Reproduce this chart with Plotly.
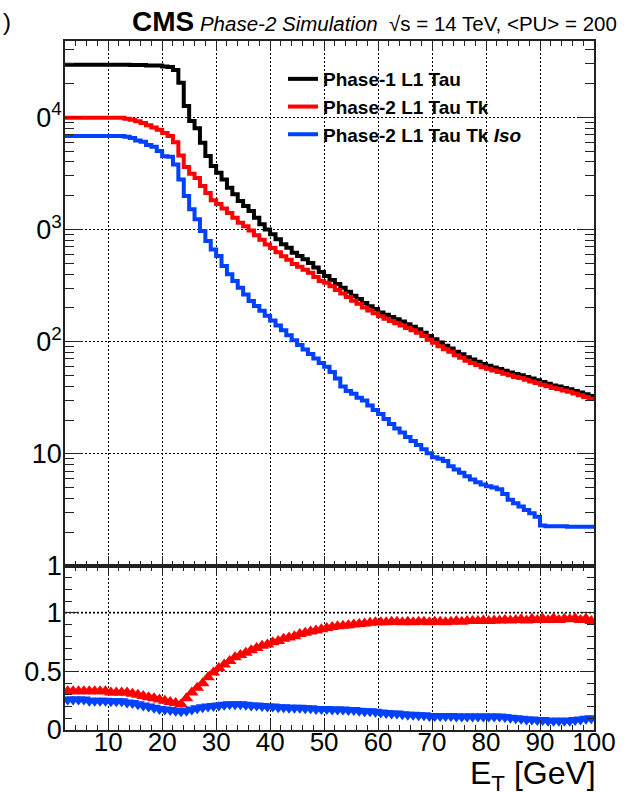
import plotly.graph_objects as go

# ---------------- data ----------------
# 1-GeV threshold bins, lower edges 2 ... 99 GeV
ET_LOW = list(range(2, 100))

PHASE1_L1TAU = [
    29400, 29400, 29400, 29400, 29400, 29400, 29400, 29400, 29400, 29400, 29400, 29400,  # 2-13
    29300, 29300, 29300,                                                                  # 14-16
    29000, 29000, 28900, 28400, 28000, 26400, 20300, 12600, 9250, 8000,                   # 17-26
    5930, 4510, 3670, 3200, 2790, 2350, 2055, 1790, 1617, 1460,                           # 27-36
    1270, 1110, 1000, 904, 816, 737, 688, 621, 580, 542,                                  # 37-46
    501, 457, 417, 385, 355, 327, 302, 279, 257, 240,                                     # 47-56
    221, 207, 195, 182, 174, 166, 158, 151, 143, 136,                                     # 57-66
    129, 120, 112, 105, 98, 92, 87, 81, 77, 72.4,                                         # 67-76
    69.2, 66.1, 63.1, 61, 58.9, 56.9, 55, 53.1, 51.3, 50.1,                               # 77-86
    48.4, 46.8, 45.2, 43.6, 42.2, 40.7, 39.8, 38.5, 37.6, 36.3,                           # 87-96
    35.1, 33.9, 32.7,                                                                     # 97-99
]

PHASE2_L1TAU_TK = [
    9900, 9900, 9900, 9900, 9900, 9900, 9900, 9900, 9900, 9900, 9900,                     # 2-12
    9700, 9500, 9200, 8900, 8500, 8100, 7750, 7250, 6800,                                 # 13-21
    6000, 4570, 3600, 3130, 2880, 2440, 2110, 1825, 1690, 1535,                           # 22-31
    1400, 1270, 1150, 1070, 980, 887, 808, 733, 682, 625,                                 # 32-41
    578, 538, 493, 466, 438, 410, 376, 347, 335, 312,                                     # 42-51
    289, 269, 250, 231, 217, 201, 189, 179, 168, 160,                                     # 52-61
    153, 146, 139, 132, 126, 120, 112, 104, 97.5, 91,                                     # 62-71
    85.5, 81, 75.5, 71.8, 67.5, 64.6, 61.8, 59, 57.2, 55.3,                               # 72-81
    53.5, 51.7, 50, 48.3, 47.3, 45.7, 44.2, 42.8, 41.3, 40,                               # 82-91
    38.6, 37.8, 36.6, 35.7, 34.4, 33.2, 32.1, 31.0,                                       # 92-99
]

PHASE2_L1TAU_TK_ISO = [
    6800, 6800, 6800, 6800, 6800, 6800, 6800, 6800, 6800, 6800, 6800,                     # 2-12
    6700, 6550, 6200, 6050, 5650, 5450, 5000, 4500, 4450,                                 # 13-21
    3800, 2790, 1990, 1510, 1230, 970, 790, 664, 580, 472,                                # 22-31
    398, 347, 302, 263, 230, 208, 188, 170, 154, 139,                                     # 32-41
    126, 114, 103, 93.3, 85.1, 77.6, 70.8, 64.6, 59.6, 53.7,                              # 42-51
    46.8, 39.8, 36.3, 34.3, 31.6, 29.9, 26.9, 24.5, 22.6, 20.4,                           # 52-61
    18.4, 16.8, 15.5, 14.1, 13.0, 12.0, 11.0, 10.1, 9.33, 9.02,                           # 62-71
    8.61, 7.76, 7.24, 6.76, 6.31, 5.89, 5.56, 5.31, 5.13, 5.01,                           # 72-81
    4.84, 4.37, 3.89, 3.63, 3.39, 3.16, 2.95, 2.75, 2.29, 2.26,                           # 82-91
    2.26, 2.26, 2.26, 2.24, 2.24, 2.24, 2.24, 2.24,                                       # 92-99
]

# ratio panel (w.r.t. Phase-1 L1 Tau)
RATIO_TK = [
    0.33, 0.33, 0.33, 0.33, 0.33, 0.33, 0.33, 0.33, 0.32, 0.32,                           # 2-11
    0.32, 0.32, 0.31, 0.30, 0.29, 0.28, 0.27, 0.26, 0.25, 0.24,                           # 12-21
    0.23, 0.22, 0.27, 0.32, 0.36, 0.40, 0.45, 0.49, 0.53, 0.56,                           # 22-31
    0.59, 0.62, 0.64, 0.66, 0.68, 0.70, 0.72, 0.73, 0.75, 0.76,                           # 32-41
    0.78, 0.79, 0.80, 0.82, 0.83, 0.84, 0.85, 0.86, 0.87, 0.88,                           # 42-51
    0.885, 0.89, 0.895, 0.90, 0.905, 0.91, 0.915, 0.92, 0.92, 0.92,                       # 52-61
    0.925, 0.925, 0.92, 0.925, 0.92, 0.925, 0.925, 0.92, 0.925, 0.925,                    # 62-71
    0.92, 0.925, 0.93, 0.925, 0.93, 0.93, 0.93, 0.935, 0.93, 0.935,                       # 72-81
    0.935, 0.94, 0.935, 0.94, 0.945, 0.935, 0.95, 0.94, 0.95, 0.94,                       # 82-91
    0.955, 0.94, 0.95, 0.945, 0.955, 0.94, 0.95, 0.93,                                    # 92-99
]

RATIO_TK_ISO = [
    0.26, 0.26, 0.26, 0.26, 0.25, 0.25, 0.25, 0.25, 0.245, 0.245,                         # 2-11
    0.245, 0.235, 0.23, 0.22, 0.21, 0.20, 0.19, 0.18, 0.175, 0.17,                        # 12-21
    0.165, 0.16, 0.165, 0.175, 0.185, 0.195, 0.20, 0.205, 0.21, 0.215,                    # 22-31
    0.22, 0.22, 0.22, 0.215, 0.21, 0.21, 0.205, 0.20, 0.20, 0.195,                        # 32-41
    0.195, 0.19, 0.19, 0.19, 0.185, 0.185, 0.18, 0.18, 0.18, 0.175,                       # 42-51
    0.175, 0.175, 0.17, 0.17, 0.165, 0.16, 0.16, 0.155, 0.15, 0.145,                      # 52-61
    0.14, 0.14, 0.135, 0.13, 0.13, 0.125, 0.125, 0.12, 0.12, 0.12,                        # 62-71
    0.12, 0.12, 0.115, 0.115, 0.115, 0.115, 0.115, 0.115, 0.115, 0.115,                   # 72-81
    0.115, 0.11, 0.105, 0.10, 0.095, 0.09, 0.09, 0.085, 0.085, 0.08,                      # 82-91
    0.08, 0.08, 0.08, 0.08, 0.085, 0.09, 0.095, 0.10,                                     # 92-99
]

SERIES_NAMES = ["Phase-1 L1 Tau", "Phase-2 L1 Tau Tk", "Phase-2 L1 Tau Tk <i>Iso</i>"]
Y_TICK_VALS = [1, 10, 100, 1000, 10000]
Y_TICK_TEXT = ["1", "10", "10<sup>2</sup>", "10<sup>3</sup>", "10<sup>4</sup>"]

# ---------------- styling ----------------
BLACK = "#000000"
RED = "#ff0000"
BLUE = "#0040ff"
FONT = "Liberation Sans, Arial, sans-serif"
W, H = 641, 793
ML, MR, MT, MB = 65, 47, 41, 63
PW, PH = W - ML - MR, H - MT - MB
SPLIT = (730 - 566) / PH          # bottom panel height fraction


def px_x(px):
    return (px - ML) / PW


def px_y(py):
    return (H - MB - py) / PH


edges = ET_LOW + [ET_LOW[-1] + 1]
centers = [e + 0.5 for e in ET_LOW]

fig = go.Figure()
for name, vals, col in zip(SERIES_NAMES,
                           [PHASE1_L1TAU, PHASE2_L1TAU_TK, PHASE2_L1TAU_TK_ISO],
                           [BLACK, RED, BLUE]):
    fig.add_trace(go.Scatter(
        x=edges, y=vals + [vals[-1]], mode="lines", name=name,
        line=dict(color=col, width=4, shape="hv"),
        xaxis="x", yaxis="y", legendgroup=name, hoverinfo="skip"))

fig.add_trace(go.Scatter(
    x=centers, y=RATIO_TK, mode="markers", showlegend=False,
    marker=dict(symbol="triangle-up", size=12, color=RED, line=dict(width=0)),
    xaxis="x2", yaxis="y2", hoverinfo="skip"))
fig.add_trace(go.Scatter(
    x=centers, y=RATIO_TK_ISO, mode="markers", showlegend=False,
    marker=dict(symbol="triangle-down", size=12, color=BLUE, line=dict(width=0)),
    xaxis="x2", yaxis="y2", hoverinfo="skip"))

axis_common = dict(
    showline=True, linecolor="#222222", linewidth=1.5, mirror="ticks",
    ticks="inside", tickcolor="#222222", tickwidth=1.2, automargin=False,
    showgrid=True, gridcolor="#000000", gridwidth=1, griddash="2px,2px",
    zeroline=False, tickfont=dict(family=FONT, size=27, color="#000000"),
)

minor_log = [m * d for d in Y_TICK_VALS for m in range(2, 10)]

fig.update_layout(
    width=W, height=H,
    margin=dict(l=ML, r=MR, t=MT, b=MB, autoexpand=False),
    paper_bgcolor="white", plot_bgcolor="white",
    showlegend=True,
    legend=dict(x=px_x(283), y=px_y(60), xanchor="left", yanchor="top",
                bgcolor="rgba(0,0,0,0)", borderwidth=0, tracegroupgap=0,
                font=dict(family=FONT, size=19, color="#000000", weight="bold")),
    xaxis=dict(axis_common, domain=[0, 1], anchor="y", range=[2, 100],
               tick0=0, dtick=10, ticklen=10, showticklabels=False,
               minor=dict(dtick=2, tick0=0, ticks="inside", ticklen=5,
                          tickcolor="#222222", showgrid=False)),
    yaxis=dict(axis_common, domain=[SPLIT, 1], anchor="x", type="log",
               range=[-0.0005, 4.68], tickmode="array",
               tickvals=Y_TICK_VALS, ticktext=Y_TICK_TEXT,
               ticklen=16, ticklabelstandoff=-4,
               minor=dict(tickmode="array", tickvals=minor_log, ticks="inside",
                          ticklen=9, tickcolor="#222222", showgrid=False)),
    xaxis2=dict(axis_common, domain=[0, 1], anchor="y2", range=[2, 100],
                matches="x", tick0=0, dtick=10, ticklen=10, ticklabelstandoff=-12,
                tickfont=dict(family=FONT, size=26, color="#000000"),
                minor=dict(dtick=2, tick0=0, ticks="inside", ticklen=5,
                           tickcolor="#222222", showgrid=False)),
    yaxis2=dict(axis_common, domain=[0, SPLIT], anchor="x2", range=[0, 1.4],
                tick0=0, dtick=0.5, ticklen=14, ticklabelstandoff=-4,
                minor=dict(dtick=0.1, tick0=0, ticks="inside", ticklen=7,
                           tickcolor="#222222", showgrid=False)),
)

# reference line at ratio = 1
fig.add_shape(type="line", xref="x2 domain", yref="y2", x0=0, x1=1, y0=1, y1=1,
              line=dict(color=RED, width=2, dash="2px,2px"), layer="below")

# left edge of the original picture is cropped through the "1" of 10^n labels
fig.add_shape(type="rect", xref="paper", yref="paper",
              x0=px_x(-5), x1=px_x(36), y0=px_y(365), y1=px_y(85),
              fillcolor="white", line=dict(width=0), layer="above")

fig.add_annotation(
    xref="paper", yref="paper", x=px_x(130), y=px_y(21),
    xanchor="left", yanchor="middle", showarrow=False,
    text=('<span style="font-size:28px"><b>CMS</b></span> '
          '<i>Phase-2 Simulation</i>\u00a0\u00a0\u221as = 14 TeV, &lt;PU&gt; = 200'),
    font=dict(family=FONT, size=20.5, color="#000000"))

fig.add_annotation(
    xref="paper", yref="paper", x=px_x(1), y=px_y(22),
    xanchor="left", yanchor="middle", showarrow=False, text=")",
    font=dict(family=FONT, size=24, color="#000000"))

fig.add_annotation(
    xref="paper", yref="paper", x=px_x(598), y=px_y(775),
    xanchor="right", yanchor="middle", showarrow=False,
    text="E<sub>T</sub> [GeV]",
    font=dict(family=FONT, size=32, color="#000000"))

fig.write_html("out.html")
